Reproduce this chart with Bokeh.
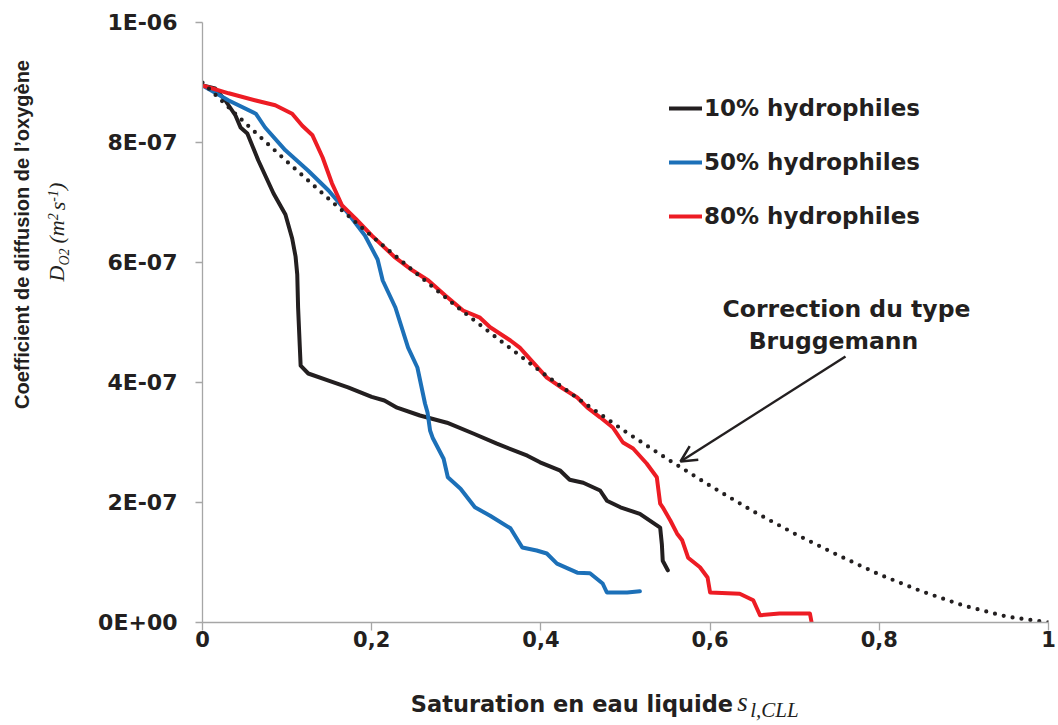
import math
from bokeh.plotting import figure
from bokeh.models import (Range1d, FixedTicker, CustomJSTickFormatter, Label, Arrow,
                          OpenHead, Legend, LegendItem, ColumnDataSource, LinearAxis)
from bokeh.embed import file_html
from bokeh.resources import INLINE

# ---------------- data (D in units of 1E-07 m2/s) ----------------
s_10 = [0, 0.015, 0.027, 0.039, 0.045, 0.053, 0.066, 0.084, 0.098, 0.106, 0.110, 0.112,
        0.113, 0.115, 0.116, 0.125, 0.149, 0.172, 0.200, 0.215, 0.230, 0.257, 0.289,
        0.320, 0.348, 0.384, 0.399, 0.423, 0.434, 0.450, 0.470, 0.478, 0.494, 0.517,
        0.541, 0.543, 0.544, 0.550]
d_10 = [8.95, 8.9, 8.7, 8.45, 8.25, 8.15, 7.7, 7.15, 6.8, 6.4, 6.1, 5.8,
        5.25, 4.6, 4.28, 4.15, 4.03, 3.92, 3.76, 3.7, 3.58, 3.45, 3.33,
        3.15, 2.98, 2.78, 2.67, 2.53, 2.38, 2.33, 2.2, 2.03, 1.92, 1.81,
        1.58, 1.3, 1.03, 0.87]

s_50 = [0, 0.031, 0.063, 0.074, 0.098, 0.125, 0.149, 0.172, 0.192, 0.207, 0.213, 0.228,
        0.243, 0.254, 0.263, 0.266, 0.269, 0.272, 0.285, 0.290, 0.305, 0.322, 0.340,
        0.364, 0.378, 0.395, 0.407, 0.419, 0.443, 0.458, 0.473, 0.478, 0.502, 0.517]
d_50 = [8.95, 8.7, 8.48, 8.25, 7.87, 7.53, 7.2, 6.82, 6.45, 6.05, 5.7, 5.25,
        4.58, 4.25, 3.65, 3.5, 3.2, 3.08, 2.73, 2.42, 2.23, 1.92, 1.78,
        1.57, 1.25, 1.2, 1.15, 0.98, 0.83, 0.82, 0.65, 0.5, 0.5, 0.52]

s_80 = [0, 0.031, 0.063, 0.086, 0.106, 0.118, 0.130, 0.142, 0.153, 0.165, 0.181, 0.200,
        0.228, 0.248, 0.267, 0.287, 0.308, 0.328, 0.340, 0.364, 0.375, 0.391, 0.407,
        0.426, 0.443, 0.455, 0.470, 0.485, 0.497, 0.509, 0.525, 0.537, 0.541, 0.544,
        0.553, 0.561, 0.567, 0.574, 0.588, 0.597, 0.600, 0.635, 0.651, 0.659, 0.682,
        0.718, 0.720]
d_80 = [8.95, 8.82, 8.7, 8.62, 8.48, 8.28, 8.12, 7.75, 7.32, 6.95, 6.73, 6.45,
        6.08, 5.87, 5.7, 5.45, 5.2, 5.08, 4.92, 4.7, 4.58, 4.33, 4.08,
        3.9, 3.75, 3.58, 3.42, 3.25, 3.0, 2.9, 2.65, 2.42, 1.98, 1.92,
        1.7, 1.48, 1.37, 1.08, 0.92, 0.75, 0.5, 0.48, 0.37, 0.12, 0.15,
        0.15, 0.0]

s_brug = [0, 0.05, 0.1, 0.15, 0.2, 0.25, 0.3, 0.35, 0.4, 0.45, 0.5, 0.55, 0.6,
          0.65, 0.7, 0.75, 0.8, 0.85, 0.9, 0.95, 1.0]
d_brug = [9.0, 8.33, 7.68, 7.05, 6.44, 5.85, 5.27, 4.72, 4.18, 3.67, 3.18, 2.72, 2.28,
          1.86, 1.48, 1.13, 0.80, 0.52, 0.28, 0.10, 0.0]

series_labels = ["10% hydrophiles", "50% hydrophiles", "80% hydrophiles"]
series_colors = ["#231f20", "#1c70b8", "#ed1c24"]
x_ticks = [0, 0.2, 0.4, 0.6, 0.8, 1.0]
y_ticks = [0, 2e-7, 4e-7, 6e-7, 8e-7, 1e-6]
UNIT = 1e-7

# ---------------- figure ----------------
FL, FT, FR, FB = 202, 22, 1048, 622   # frame edges in canvas pixels
p = figure(width=1058, height=725, output_backend="svg", toolbar_location=None,
           x_range=Range1d(0, 1), y_range=Range1d(0, 1e-6),
           min_border_left=FL, min_border_right=1058 - FR, min_border_top=FT,
           min_border_bottom=725 - FB)
# pixel-like helper ranges, used only to place title texts in the side panels
p.extra_x_ranges = {"pxx": Range1d(FL, FR)}
p.extra_y_ranges = {"pxy": Range1d(FB, FT)}
p.xgrid.visible = False
p.ygrid.visible = False
p.outline_line_color = None
p.background_fill_color = "white"
p.border_fill_color = "white"

AX_COL = "#a6a6a6"
TXT = "#231f20"
for ax in (p.xaxis, p.yaxis):
    ax.axis_line_color = AX_COL
    ax.axis_line_width = 1.3
    ax.major_tick_line_color = AX_COL
    ax.major_tick_line_width = 1.3
    ax.major_tick_in = 0
    ax.minor_tick_in = 0
    ax.minor_tick_out = 0
    ax.major_label_text_font = "DejaVu Sans"
    ax.major_label_text_font_style = "bold"
    ax.major_label_text_color = TXT
p.xaxis.major_label_text_font_size = "21px"
p.yaxis.major_label_text_font_size = "22px"

p.xaxis.ticker = FixedTicker(ticks=x_ticks)
p.yaxis.ticker = FixedTicker(ticks=y_ticks)
p.xaxis.major_tick_out = 8
p.yaxis.major_tick_out = 7
p.xaxis.major_label_standoff = 0
p.yaxis.major_label_standoff = 18
p.xaxis.formatter = CustomJSTickFormatter(code="""
    const r = Math.round(tick * 10) / 10;
    return String(r).replace('.', ',');
""")
p.yaxis.formatter = CustomJSTickFormatter(code="""
    const s = Math.abs(tick) < 1e-15 ? '0e+0' : tick.toExponential(0);
    const parts = s.split('e');
    const e = parts[1];
    const sign = e[0];
    const dig = e.slice(1).padStart(2, '0');
    return parts[0] + 'E' + sign + dig;
""")

renderers = []
for s_vals, d_vals, col in zip([s_10, s_50, s_80], [d_10, d_50, d_80], series_colors):
    src = ColumnDataSource(dict(x=s_vals, y=[v * UNIT for v in d_vals]))
    r = p.line("x", "y", source=src, line_color=col, line_width=4,
               line_join="round", line_cap="round")
    renderers.append(r)

brug_src = ColumnDataSource(dict(x=s_brug, y=[v * UNIT for v in d_brug]))
p.line("x", "y", source=brug_src, line_color=TXT, line_width=4.2,
       line_dash="0 9", line_cap="round")

legend = Legend(items=[LegendItem(label=lab, renderers=[r]) for lab, r in zip(series_labels, renderers)],
                location=(457, 381), orientation="vertical",
                glyph_width=33, glyph_height=20, label_standoff=2,
                label_height=30, spacing=24, padding=10, margin=0,
                label_text_font="DejaVu Sans", label_text_font_style="bold",
                label_text_font_size="23px", label_text_color=TXT,
                background_fill_alpha=0, border_line_alpha=0)
p.add_layout(legend)

# ---------------- helpers (canvas pixels -> data) ----------------
def fx(px):
    return (px - FL) / (FR - FL)

def fy(py):
    return (FB - py) / (FB - FT) * 1e-6

# annotation inside the frame
p.add_layout(Label(x=fx(846), y=fy(308), text="Correction du type", text_font="DejaVu Sans",
                   text_font_style="bold", text_font_size="23.5px", text_color=TXT,
                   text_align="center", text_baseline="alphabetic"))
p.add_layout(Label(x=fx(833), y=fy(340), text="Bruggemann", text_font="DejaVu Sans",
                   text_font_style="bold", text_font_size="23.5px", text_color=TXT,
                   text_align="center", text_baseline="alphabetic"))
p.add_layout(Arrow(end=OpenHead(size=16, line_color=TXT, line_width=2.5),
                   x_start=fx(845), y_start=fy(356), x_end=fx(680), y_end=fy(461),
                   line_color=TXT, line_width=2.5))

# ---------------- axis titles, drawn as tick labels of bare helper axes ----------------
def text_axis(side, positions, texts, font, size, style, standoff, orientation="horizontal"):
    if side == "below":
        ax = LinearAxis(x_range_name="pxx")
    else:
        ax = LinearAxis(y_range_name="pxy")
    ax.ticker = FixedTicker(ticks=positions, minor_ticks=[])
    ax.formatter = CustomJSTickFormatter(args=dict(pos=positions, names=texts), code="""
        const i = pos.indexOf(tick);
        return i >= 0 ? names[i] : '';
    """)
    ax.axis_line_color = None
    ax.major_tick_line_color = None
    ax.minor_tick_line_color = None
    ax.major_tick_out = 0
    ax.major_tick_in = 0
    ax.minor_tick_out = 0
    ax.minor_tick_in = 0
    ax.major_label_standoff = standoff
    ax.major_label_orientation = orientation
    ax.major_label_text_font = font
    ax.major_label_text_font_size = f"{size}px"
    ax.major_label_text_font_style = style
    ax.major_label_text_color = TXT
    p.add_layout(ax, side)
    return ax

# x title: "Saturation en eau liquide" + s_{l,CLL}
text_axis("below", [571.5], ["Saturation en eau liquide"], "DejaVu Sans", 22.5, "bold", 41)
text_axis("below", [742.0], ["s"], "Liberation Serif", 27, "italic", -33)
text_axis("below", [774.0], ["l,CLL"], "Liberation Serif", 21, "italic", -22)

# y title: second line D_{O2} (m^2 s^-1), then first line
text_axis("left", [256.55], ["O2"], "Liberation Serif", 14, "italic", 23, "vertical")
text_axis("left", [273.05, 231.4, 205.5, 185.85], ["D", "(m", "s", ")"],
          "Liberation Serif", 22, "italic", -15, "vertical")
text_axis("left", [216.3, 195.35], ["2", "-1"], "Liberation Serif", 14, "italic", -17, "vertical")
text_axis("left", [234.0], ["Coefficient de diffusion de l\u2019oxygène"],
          "Liberation Sans", 20, "bold", 9, "vertical")

open("out.html", "w").write(file_html(p, INLINE))
